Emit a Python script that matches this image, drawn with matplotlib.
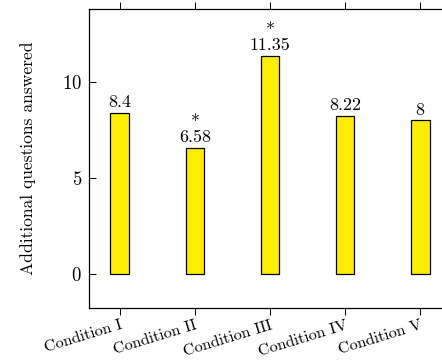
import matplotlib
matplotlib.use("Agg")
import matplotlib.pyplot as plt

categories = ["Condition I", "Condition II", "Condition III", "Condition IV", "Condition V"]
values = [8.4, 6.58, 11.35, 8.22, 8.0]
value_labels = ["8.4", "6.58", "11.35", "8.22", "8"]
significant = [False, True, True, False, False]

plt.rcParams['font.family'] = 'serif'
plt.rcParams['font.serif'] = ['cmr10']
plt.rcParams['mathtext.fontset'] = 'cm'
plt.rcParams['axes.formatter.use_mathtext'] = True

W, H = 442, 360
fig = plt.figure(figsize=(W/100, H/100), dpi=100)
left, right, top, bottom = 89, 451, 9, 308
ax = fig.add_axes([left/W, 1-bottom/H, (right-left)/W, (bottom-top)/H])

x = list(range(len(categories)))
ax.bar(x, values, width=0.25, color='#FFED00', edgecolor='black', linewidth=0.9, zorder=2)
ax.set_xlim(-0.41, len(categories) - 1 + 0.41)
ax.set_ylim(-1.77, 13.8)
ax.set_yticks([0, 5, 10])
ax.set_xticks(x)
ax.set_xticklabels(categories, rotation=17, ha='right', rotation_mode='anchor', fontsize=11.6)
ax.tick_params(axis='y', direction='in', length=5, width=0.7, labelsize=13.5, pad=5, right=True)
ax.tick_params(axis='x', direction='out', length=5, width=0.7, pad=2.5, top=True)
for s in ax.spines.values():
    s.set_linewidth(0.9)
ax.set_ylabel("Additional questions answered", fontsize=12.6, labelpad=19)

for xi, v, lab, sig in zip(x, values, value_labels, significant):
    text = ("*\n" + lab) if sig else lab
    ax.annotate(text, (xi, v), xytext=(0, 2), textcoords='offset points',
                ha='center', va='bottom', fontsize=13, linespacing=0.95,
                multialignment='center')

fig.savefig("out.png", dpi=100)
